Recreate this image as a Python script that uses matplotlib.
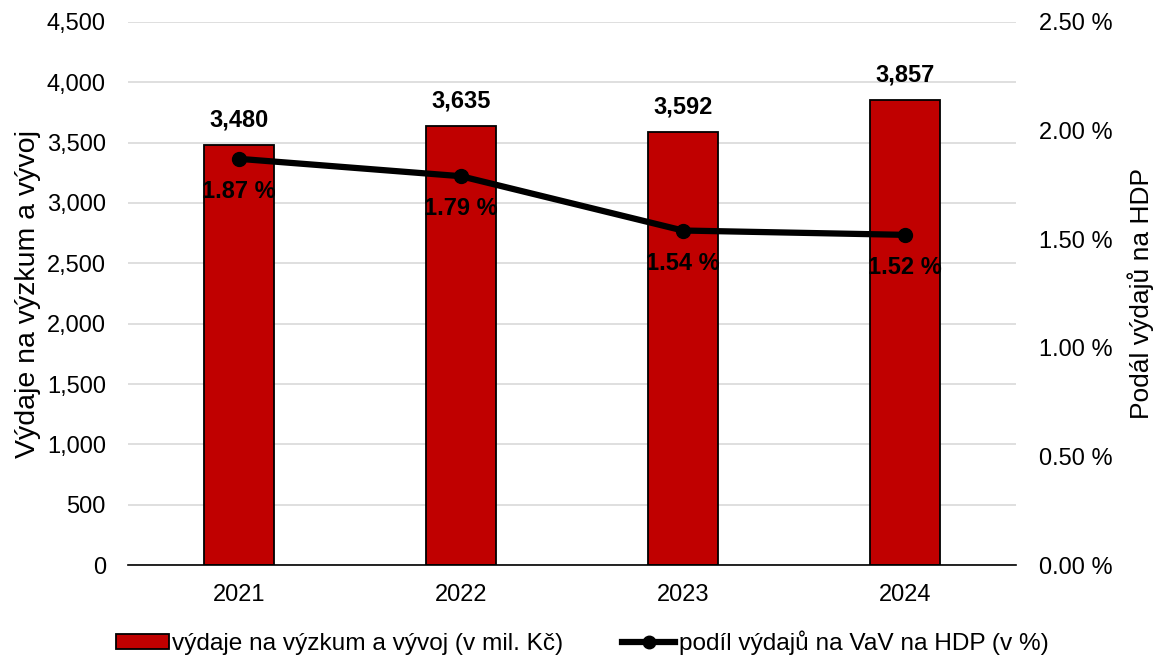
import matplotlib
matplotlib.use("Agg")
import matplotlib.pyplot as plt
from matplotlib.ticker import FuncFormatter, MultipleLocator

plt.rcParams['font.family'] = ['Liberation Sans', 'DejaVu Sans']

years = ["2021", "2022", "2023", "2024"]
spending = [3480, 3635, 3592, 3857]
share_pct = [1.87, 1.79, 1.54, 1.52]

bar_label = "výdaje na výzkum a vývoj (v mil. Kč)"
line_label = "podíl výdajů na VaV na HDP (v %)"

FS = 17

fig = plt.figure(figsize=(11.53, 6.58), dpi=100)
ax = fig.add_axes([0.111, 0.1413, 0.770, 0.8253])
ax2 = ax.twinx()

x = list(range(len(years)))
bars = ax.bar(x, spending, width=0.315, color="#C00000", edgecolor="black", linewidth=1.3,
              label=bar_label, zorder=2)
ax.set_xlim(-0.5, len(years) - 0.5)
ax.set_ylim(0, 4500)
ax.yaxis.set_major_locator(MultipleLocator(500))
ax.yaxis.set_major_formatter(FuncFormatter(lambda v, p: f"{int(v):,}"))
ax.grid(axis="y", color="#d9d9d9", linewidth=1.2, zorder=0)
ax.set_axisbelow(True)
ax.set_xticks(x)
ax.set_xticklabels(years)
for s in ["top", "left", "right"]:
    ax.spines[s].set_visible(False)
ax.spines["bottom"].set_color("black")
ax.spines["bottom"].set_linewidth(1.2)
ax.tick_params(axis="both", length=0, labelsize=FS)
ax.tick_params(axis="x", pad=14)
ax.tick_params(axis="y", pad=16)
ax.set_ylabel("Výdaje na výzkum a vývoj", fontsize=20.5, labelpad=4)

for xi, v in zip(x, spending):
    ax.annotate(f"{v:,}", (xi, v), xytext=(0, 18), textcoords="offset points",
                ha="center", va="center", fontsize=FS, fontweight="bold")

line, = ax2.plot(x, share_pct, color="black", linewidth=4.5, marker="o", markersize=10,
                 label=line_label, zorder=3)
ax2.set_ylim(0, 2.5)
ax2.yaxis.set_major_locator(MultipleLocator(0.5))
ax2.yaxis.set_major_formatter(FuncFormatter(lambda v, p: f"{v:.2f} %"))
for s in ["top", "left", "right", "bottom"]:
    ax2.spines[s].set_visible(False)
ax2.tick_params(axis="y", length=0, labelsize=FS, pad=17)
ax2.set_ylabel("Podál výdajů na HDP", fontsize=19, labelpad=10)

for xi, v in zip(x, share_pct):
    ax2.annotate(f"{v:.2f} %", (xi, v), xytext=(0, -23.5), textcoords="offset points",
                 ha="center", va="center", fontsize=FS, fontweight="bold")

fig.legend([bars, line], [bar_label, line_label], loc="center", bbox_to_anchor=(0.505, 0.0228),
           ncol=2, frameon=False, fontsize=17.6, handlelength=2.15, handleheight=0.55,
           handletextpad=0.15, columnspacing=2.4, markerscale=0.9)

fig.savefig("out.png", dpi=100)
